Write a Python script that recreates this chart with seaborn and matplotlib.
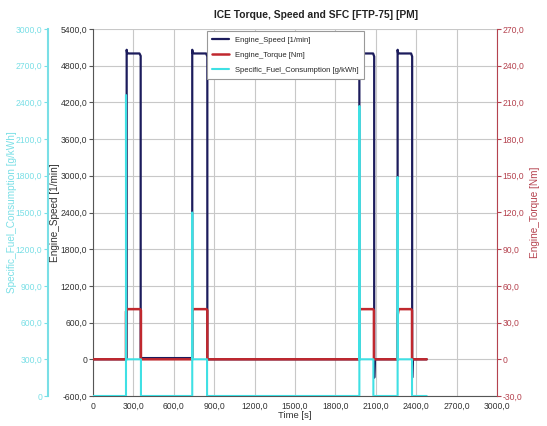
import matplotlib
matplotlib.use("Agg")
import matplotlib.pyplot as plt
from matplotlib.ticker import FuncFormatter
import seaborn as sns
import pandas as pd

# ---- data ----
speed_t = [0, 250, 250, 253, 265, 345, 354, 354, 737, 737, 740, 752, 840, 849, 849,
           1978, 1978, 1981, 1993, 2080, 2088, 2088, 2092, 2262, 2262, 2265, 2277, 2362, 2370, 2370, 2374, 2478]
speed_v = [0, 0, 5060, 5010, 5000, 5000, 4960, 20, 20, 5060, 5010, 5000, 5000, 4950, 0,
           0, 5060, 5010, 5000, 5000, 4950, -300, 0, 0, 5060, 5010, 5000, 5000, 4950, -300, 0, 0]

torque_t = [0, 245, 245, 252, 350, 356, 356, 737, 737, 744, 842, 849, 849,
            1978, 1978, 1985, 2080, 2086, 2086, 2262, 2262, 2270, 2362, 2369, 2369, 2478]
torque_v = [0, 0, 39, 41, 41, 40, 0, 0, 39, 41, 41, 40, 0,
            0, 39, 41, 41, 40, 0, 0, 36, 41, 41, 40, 0, 0]

sfc_t = [0, 245, 245, 246, 356, 356, 737, 737, 738, 847, 847,
         1978, 1978, 1979, 2082, 2082, 2262, 2262, 2263, 2369, 2369, 2478]
sfc_v = [0, 0, 2460, 300, 300, 0, 0, 1500, 300, 300, 0,
         0, 2370, 300, 300, 0, 0, 1790, 300, 300, 0, 0]

x_ticks = [0, 300, 600, 900, 1200, 1500, 1800, 2100, 2400, 2700, 3000]
speed_ticks = [-600, 0, 600, 1200, 1800, 2400, 3000, 3600, 4200, 4800, 5400]
torque_ticks = [-30, 0, 30, 60, 90, 120, 150, 180, 210, 240, 270]
sfc_ticks = [0, 300, 600, 900, 1200, 1500, 1800, 2100, 2400, 2700, 3000]

title = "ICE Torque, Speed and SFC [FTP-75] [PM]"
labels = ["Engine_Speed [1/min]", "Engine_Torque [Nm]", "Specific_Fuel_Consumption [g/kWh]"]

# ---- style ----
sns.set_style("white")
plt.rcParams["font.family"] = ["Liberation Sans", "DejaVu Sans"]

c_speed = "#1c1c5c"
c_torque = "#c0282e"
c_sfc = "#3fe0e4"
c_sfc_axis = "#7adfe6"
c_torque_axis = "#b5434f"
c_grid = "#c8c8c8"

fmt = FuncFormatter(lambda v, p: "0" if abs(v) < 1e-9 else f"{v:.1f}".replace(".", ","))

fig = plt.figure(figsize=(5.47, 4.26), dpi=100)
ax = fig.add_axes([93 / 547, 1 - 396 / 426, 404 / 547, 367 / 426])
ax_t = ax.twinx()
ax_s = ax.twinx()

df_speed = pd.DataFrame({"t": speed_t, "v": speed_v})
df_torque = pd.DataFrame({"t": torque_t, "v": torque_v})
df_sfc = pd.DataFrame({"t": sfc_t, "v": sfc_v})

sns.lineplot(data=df_speed, x="t", y="v", ax=ax, color=c_speed, lw=1.6,
             sort=False, estimator=None, legend=False)
sns.lineplot(data=df_torque, x="t", y="v", ax=ax_t, color=c_torque, lw=1.8,
             sort=False, estimator=None, legend=False)
sns.lineplot(data=df_sfc, x="t", y="v", ax=ax_s, color=c_sfc, lw=1.5,
             sort=False, estimator=None, legend=False)

ax.set_xlim(0, 3000)
ax.set_ylim(-600, 5400)
ax_t.set_ylim(-30, 270)
ax_s.set_ylim(0, 3000)

ax.set_xticks(x_ticks)
ax.set_yticks(speed_ticks)
ax_t.set_yticks(torque_ticks)
ax_s.set_yticks(sfc_ticks)
for a in (ax, ax_t, ax_s):
    a.yaxis.set_major_formatter(fmt)
ax.xaxis.set_major_formatter(fmt)

ax.grid(True, color=c_grid, lw=0.8)
ax.set_axisbelow(True)

# spines
for a in (ax, ax_t, ax_s):
    a.spines["top"].set_visible(False)
ax.spines["right"].set_visible(False)
ax.spines["left"].set_color("#555555")
ax.spines["bottom"].set_color("#555555")
ax_t.spines["left"].set_visible(False)
ax_t.spines["bottom"].set_visible(False)
ax_t.spines["right"].set_color(c_torque_axis)
ax_s.spines["right"].set_visible(False)
ax_s.spines["bottom"].set_visible(False)
ax_s.spines["left"].set_visible(True)
ax_s.spines["left"].set_position(("axes", -45 / 404))
ax_s.spines["left"].set_color(c_sfc_axis)
ax_s.spines["left"].set_linewidth(1.5)
ax_s.yaxis.set_label_position("left")
ax_s.yaxis.set_ticks_position("left")

fs = 6.2
ax.tick_params(axis="both", labelsize=fs, length=3, width=0.8, color="#555555",
               labelcolor="#333333", pad=1.2)
ax_t.tick_params(axis="y", labelsize=fs, length=3, width=0.8, color=c_torque_axis,
                 labelcolor=c_torque_axis, pad=1.2)
ax_s.tick_params(axis="y", labelsize=fs, length=3, width=0.8, color=c_sfc_axis,
                 labelcolor=c_sfc_axis, pad=1.2)

ax.set_xlabel("Time [s]", fontsize=6.8, color="#333333", labelpad=0)
ax.set_ylabel(labels[0], fontsize=7.2, color="#333333", labelpad=0)
ax_t.set_ylabel(labels[1], fontsize=7.2, color=c_torque_axis, labelpad=4)
ax_s.set_ylabel(labels[2], fontsize=7.2, color=c_sfc_axis, labelpad=-1)

fig.text(316 / 547, 1 - 15 / 426, title, ha="center", va="center", fontsize=7.4,
         fontweight="bold", color="#222222")

handles = [ax.get_lines()[0], ax_t.get_lines()[0], ax_s.get_lines()[0]]
leg = ax_s.legend(handles, labels, loc="upper left", bbox_to_anchor=(0.282, 0.995),
                  fontsize=5.5, frameon=True, fancybox=False, framealpha=1,
                  edgecolor="#999999", handlelength=2.2, borderpad=0.7,
                  labelspacing=1.0, handletextpad=0.8, borderaxespad=0)
leg.get_frame().set_linewidth(0.8)

fig.savefig("out.png", dpi=100)
